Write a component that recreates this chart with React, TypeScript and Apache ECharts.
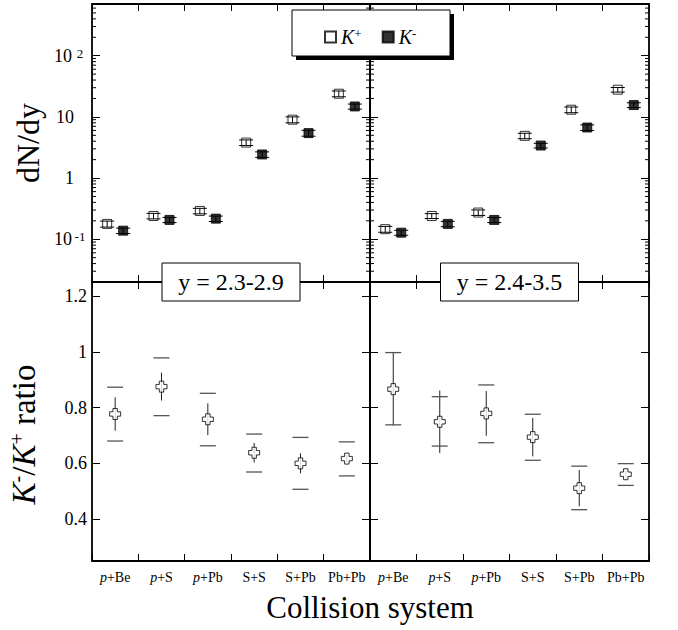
import React, { useEffect, useRef } from 'react';
import * as echarts from 'echarts';

const FONT = 'Liberation Serif';

const categories = ['p+Be', 'p+S', 'p+Pb', 'S+S', 'S+Pb', 'Pb+Pb'];
const panelLabels = ['y = 2.3-2.9', 'y = 2.4-3.5'];

// dN/dy, left panel (y = 2.3-2.9)
const kPlusLeft = [0.178, 0.24, 0.29, 3.8, 9.0, 23.9];
const kPlusLeftErr = [0.02, 0.025, 0.03, 0.4, 1.0, 2.6];
const kMinusLeft = [0.138, 0.207, 0.217, 2.43, 5.43, 14.8];
const kMinusLeftErr = [0.014, 0.02, 0.022, 0.25, 0.6, 1.4];
// dN/dy, right panel (y = 2.4-3.5)
const kPlusRight = [0.146, 0.24, 0.273, 4.9, 13.1, 27.8];
const kPlusRightErr = [0.016, 0.022, 0.028, 0.5, 1.4, 2.4];
const kMinusRight = [0.128, 0.178, 0.207, 3.4, 6.7, 15.6];
const kMinusRightErr = [0.012, 0.018, 0.02, 0.3, 0.7, 1.4];

// K-/K+ ratio, left panel
const ratioLeft = [0.777, 0.875, 0.758, 0.638, 0.6, 0.617];
const ratioLeftStat = [0.06, 0.05, 0.057, 0.035, 0.036, 0.012];
const ratioLeftSysLo = [0.68, 0.771, 0.663, 0.569, 0.507, 0.555];
const ratioLeftSysHi = [0.873, 0.978, 0.851, 0.705, 0.693, 0.677];
// K-/K+ ratio, right panel
const ratioRight = [0.866, 0.749, 0.779, 0.694, 0.511, 0.561];
const ratioRightStat = [0.13, 0.112, 0.08, 0.069, 0.065, 0.012];
const ratioRightSysLo = [0.738, 0.662, 0.674, 0.611, 0.434, 0.521];
const ratioRightSysHi = [0.997, 0.839, 0.881, 0.776, 0.59, 0.599];

// log-axis minor tick decoration
const decades = [-2, -1, 0, 1, 2];
const minorMultipliers = [2, 3, 4, 5, 6, 7, 8, 9];

const LOG_MIN = 0.02;
const LOG_MAX = 700;

function buildOption(): any {
  const minorValues: number[][] = [];
  decades.forEach((d) =>
    minorMultipliers.forEach((m) => {
      const v = m * Math.pow(10, d);
      if (v > LOG_MIN && v < LOG_MAX) minorValues.push([0, v]);
    })
  );

  const gridBase = { show: true, borderColor: '#000', borderWidth: 1.8, backgroundColor: 'transparent', containLabel: false, outerBoundsMode: 'none' };
  const grid = [
    { ...gridBase, left: 92, top: 4, width: 278, height: 278 },
    { ...gridBase, left: 370, top: 4, width: 279, height: 278 },
    { ...gridBase, left: 92, top: 282, width: 278, height: 279 },
    { ...gridBase, left: 370, top: 282, width: 279, height: 279 },
  ];

  const tick = (len: number) => ({ show: true, inside: true, length: len, lineStyle: { color: '#000', width: 1 } });

  const catAxis = (gridIndex: number, position: string, labels: boolean) => ({
    type: 'category',
    gridIndex,
    position,
    data: categories,
    boundaryGap: true,
    axisLine: { show: false },
    axisTick: tick(7),
    splitLine: { show: false },
    axisLabel: labels
      ? {
          show: true,
          interval: 0,
          margin: 9,
          color: '#000',
          fontFamily: FONT,
          fontSize: 14,
          formatter: (v: string) => (v.startsWith('p+') ? '{i|p}{n|' + v.slice(1) + '}' : '{n|' + v + '}'),
          rich: {
            i: { fontFamily: FONT, fontSize: 14, fontStyle: 'italic', color: '#000' },
            n: { fontFamily: FONT, fontSize: 14, color: '#000' },
          },
        }
      : { show: false },
  });

  const logFormatter = (v: number) => {
    const e = Math.round(Math.log10(v));
    if (e === 0) return '{b|1}{pad|}';
    if (e === 1) return '{b|10}{pad|}';
    return '{b|10}{sup|' + e + '}';
  };

  const logAxis = (gridIndex: number, position: string, labels: boolean) => ({
    type: 'log',
    logBase: 10,
    gridIndex,
    position,
    min: LOG_MIN,
    max: LOG_MAX,
    axisLine: { show: false },
    axisTick: tick(8),
    splitLine: { show: false },
    axisLabel: labels
      ? {
          show: true,
          margin: 6,
          showMinLabel: false,
          showMaxLabel: false,
          fontFamily: FONT,
          formatter: logFormatter,
          rich: {
            b: { fontFamily: FONT, fontSize: 18, color: '#000', verticalAlign: 'bottom' },
            sup: { fontFamily: FONT, fontSize: 13, color: '#000', width: 12, align: 'left', verticalAlign: 'top', padding: [0, 0, 0, 2] },
            pad: { width: 12 },
          },
        }
      : { show: false },
    name: labels ? 'dN/dy' : '',
    nameLocation: 'middle',
    nameRotate: 90,
    nameGap: 48,
    nameTextStyle: { fontFamily: FONT, fontSize: 32, color: '#000' },
  });

  const ratioAxis = (gridIndex: number, position: string, labels: boolean) => ({
    type: 'value',
    gridIndex,
    position,
    min: 0.25,
    max: 1.25,
    axisLine: { show: false },
    axisTick: tick(8),
    splitLine: { show: false },
    axisLabel: labels
      ? { show: true, margin: 5, showMinLabel: false, showMaxLabel: false, fontFamily: FONT, fontSize: 18, color: '#000' }
      : { show: false },
    name: labels ? '{k|K}{sup|-}{n|/}{k|K}{sup|+}{n| ratio}' : '',
    nameLocation: 'middle',
    nameRotate: 90,
    nameGap: 52,
    nameTextStyle: {
      fontFamily: FONT,
      fontSize: 33,
      color: '#000',
      padding: [0, 26, 0, 0],
      rich: {
        k: { fontFamily: FONT, fontSize: 33, fontStyle: 'italic', color: '#000' },
        n: { fontFamily: FONT, fontSize: 33, color: '#000' },
        sup: { fontFamily: FONT, fontSize: 20, color: '#000', verticalAlign: 'top' },
      },
    },
  });

  const xAxis = [
    catAxis(0, 'bottom', false),
    catAxis(0, 'top', false),
    catAxis(1, 'bottom', false),
    catAxis(1, 'top', false),
    catAxis(2, 'bottom', true),
    catAxis(2, 'top', false),
    catAxis(3, 'bottom', true),
    catAxis(3, 'top', false),
  ];
  const yAxis = [
    logAxis(0, 'left', true),
    logAxis(0, 'right', false),
    logAxis(1, 'left', false),
    logAxis(1, 'right', false),
    ratioAxis(2, 'left', true),
    ratioAxis(2, 'right', false),
    ratioAxis(3, 'left', false),
    ratioAxis(3, 'right', false),
  ];

  const minorTickSeries = (xi: number, yi: number) => ({
    type: 'custom',
    xAxisIndex: xi,
    yAxisIndex: yi,
    silent: true,
    data: minorValues,
    z: 1,
    renderItem: (params: any, api: any) => {
      const cs = params.coordSys;
      const y = api.coord([0, api.value(1)])[1];
      const st = { stroke: '#000', lineWidth: 1 };
      return {
        type: 'group',
        children: [
          { type: 'line', shape: { x1: cs.x, y1: y, x2: cs.x + 4, y2: y }, style: st },
          { type: 'line', shape: { x1: cs.x + cs.width - 4, y1: y, x2: cs.x + cs.width, y2: y }, style: st },
        ],
      };
    },
  });

  const dndyErrSeries = (xi: number, yi: number, vals: number[], errs: number[], offset: number) => ({
    type: 'custom',
    xAxisIndex: xi,
    yAxisIndex: yi,
    silent: true,
    z: 6,
    data: vals.map((v, i) => [i, v, errs[i]]),
    renderItem: (params: any, api: any) => {
      const i = api.value(0);
      const v = api.value(1);
      const e = api.value(2);
      const c = api.coord([i, v]);
      const hi = api.coord([i, v + e])[1];
      const lo = api.coord([i, v - e])[1];
      const x = c[0] + offset;
      const st = { stroke: '#000', lineWidth: 1 };
      return {
        type: 'group',
        children: [
          { type: 'line', shape: { x1: x - 7, y1: hi, x2: x + 7, y2: hi }, style: st },
          { type: 'line', shape: { x1: x - 7, y1: lo, x2: x + 7, y2: lo }, style: st },
          { type: 'line', shape: { x1: x, y1: hi, x2: x, y2: lo }, style: st },
        ],
      };
    },
  });

  const ratioErrSeries = (xi: number, yi: number, vals: number[], stat: number[], lo: number[], hi: number[]) => ({
    type: 'custom',
    xAxisIndex: xi,
    yAxisIndex: yi,
    silent: true,
    z: 2,
    data: vals.map((v, i) => [i, v, stat[i], lo[i], hi[i]]),
    renderItem: (params: any, api: any) => {
      const i = api.value(0);
      const v = api.value(1);
      const s = api.value(2);
      const x = api.coord([i, v])[0];
      const sTop = api.coord([i, v + s])[1];
      const sBot = api.coord([i, v - s])[1];
      const cLo = api.coord([i, api.value(3)])[1];
      const cHi = api.coord([i, api.value(4)])[1];
      const capSt = { stroke: '#555', lineWidth: 1.3 };
      return {
        type: 'group',
        children: [
          { type: 'line', shape: { x1: x, y1: sTop, x2: x, y2: sBot }, style: { stroke: '#222', lineWidth: 1 } },
          { type: 'line', shape: { x1: x - 8, y1: cLo, x2: x + 8, y2: cLo }, style: capSt },
          { type: 'line', shape: { x1: x - 8, y1: cHi, x2: x + 8, y2: cHi }, style: capSt },
        ],
      };
    },
  });

  const kPlusStyle = { color: '#fff', borderColor: '#000', borderWidth: 1 };
  const kMinusStyle = { color: '#000', borderColor: '#000', borderWidth: 1 };
  const scatter = (name: string, xi: number, yi: number, data: number[], style: any, offset: number) => ({
    name,
    type: 'scatter',
    xAxisIndex: xi,
    yAxisIndex: yi,
    data,
    symbol: 'rect',
    symbolSize: 9,
    symbolOffset: [offset, 0],
    itemStyle: style,
    z: 4,
    silent: true,
  });

  const crossPath = 'path://M3,0H7V3H10V7H7V10H3V7H0V3H3Z';
  const ratioScatter = (xi: number, yi: number, data: number[]) => ({
    name: 'ratio',
    type: 'scatter',
    xAxisIndex: xi,
    yAxisIndex: yi,
    data,
    symbol: crossPath,
    symbolSize: 11,
    itemStyle: { color: '#fff', borderColor: '#000', borderWidth: 1 },
    z: 5,
    silent: true,
  });

  const series = [
    minorTickSeries(0, 0),
    minorTickSeries(2, 2),
    scatter('K+', 0, 0, kPlusLeft, kPlusStyle, -8),
    scatter('K-', 0, 0, kMinusLeft, kMinusStyle, 8),
    scatter('K+', 2, 2, kPlusRight, kPlusStyle, -8),
    scatter('K-', 2, 2, kMinusRight, kMinusStyle, 8),
    dndyErrSeries(0, 0, kPlusLeft, kPlusLeftErr, -8),
    dndyErrSeries(0, 0, kMinusLeft, kMinusLeftErr, 8),
    dndyErrSeries(2, 2, kPlusRight, kPlusRightErr, -8),
    dndyErrSeries(2, 2, kMinusRight, kMinusRightErr, 8),
    ratioErrSeries(4, 4, ratioLeft, ratioLeftStat, ratioLeftSysLo, ratioLeftSysHi),
    ratioErrSeries(6, 6, ratioRight, ratioRightStat, ratioRightSysLo, ratioRightSysHi),
    ratioScatter(4, 4, ratioLeft),
    ratioScatter(6, 6, ratioRight),
  ];

  const labelBox = (cx: number, text: string) => [
    { type: 'rect', z: 50, shape: { x: cx - 69, y: 263, width: 138, height: 38 }, style: { fill: '#fff', stroke: '#000', lineWidth: 1 } },
    {
      type: 'text',
      z: 51,
      x: cx,
      y: 282,
      style: { text, fontFamily: FONT, fontSize: 24, fill: '#000', textAlign: 'center', textVerticalAlign: 'middle' },
    },
  ];

  const graphic = [
    { type: 'rect', z: 40, shape: { x: 296, y: 14, width: 158, height: 46 }, style: { fill: '#000' } },
    { type: 'rect', z: 41, shape: { x: 292, y: 10, width: 158, height: 46 }, style: { fill: '#fff', stroke: '#000', lineWidth: 1 } },
    ...labelBox(231, panelLabels[0]),
    ...labelBox(509.5, panelLabels[1]),
    {
      type: 'text',
      z: 51,
      x: 370,
      y: 607,
      style: { text: 'Collision system', fontFamily: FONT, fontSize: 31, fill: '#000', textAlign: 'center', textVerticalAlign: 'middle' },
    },
  ];

  return {
    animation: false,
    backgroundColor: '#fff',
    textStyle: { fontFamily: FONT },
    grid,
    xAxis,
    yAxis,
    series,
    graphic,
    legend: {
      data: ['K+', 'K-'],
      left: 319,
      top: 22,
      z: 60,
      itemWidth: 11,
      itemHeight: 11,
      itemGap: 20,
      selectedMode: false,
      icon: 'rect',
      formatter: (name: string) => '{k|K}{s|' + name.slice(1) + '}',
      textStyle: {
        fontFamily: FONT,
        fontSize: 20,
        color: '#000',
        rich: {
          k: { fontFamily: FONT, fontSize: 20, fontStyle: 'italic', color: '#000' },
          s: { fontFamily: FONT, fontSize: 13, color: '#000', verticalAlign: 'top' },
        },
      },
    },
  };
}

export default function App() {
  const ref = useRef<HTMLDivElement>(null);
  useEffect(() => {
    if (!ref.current) return;
    const chart = echarts.init(ref.current, undefined, { renderer: 'svg' });
    chart.setOption(buildOption());
    return () => chart.dispose();
  }, []);
  return <div ref={ref} style={{ position: 'fixed', left: 0, top: 0, width: 678, height: 630, background: '#fff' }} />;
}
